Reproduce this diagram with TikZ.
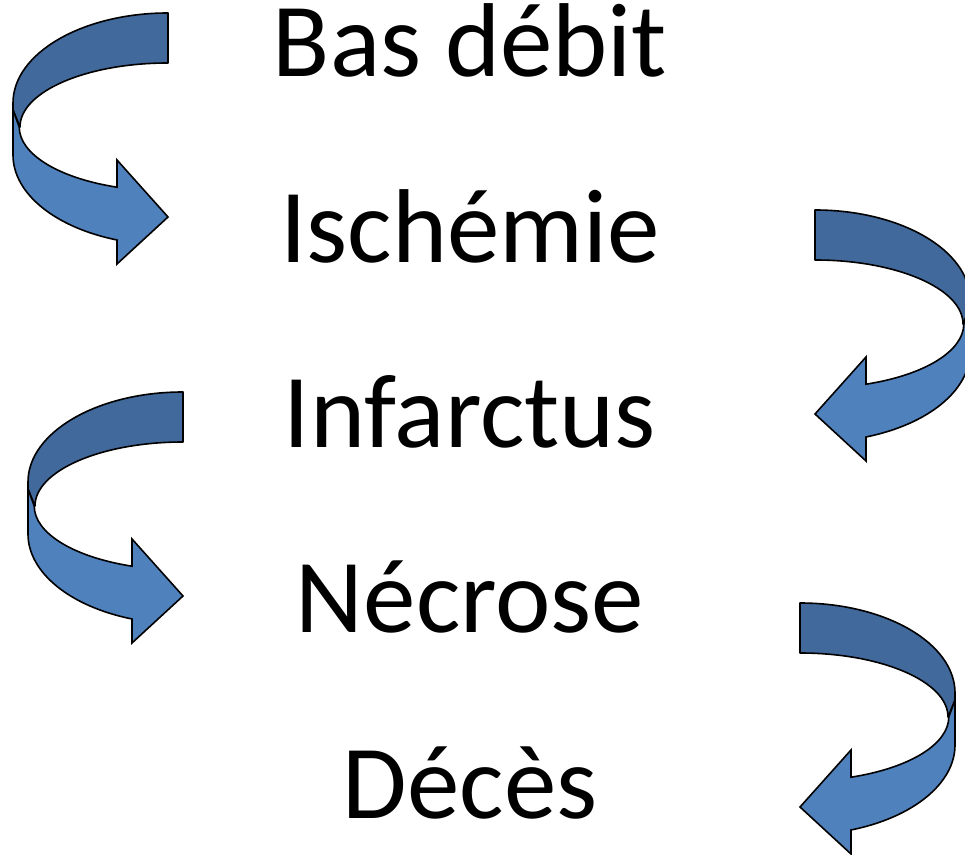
\documentclass[tikz,border=0pt]{standalone}
\usepackage{fontspec}
\setmainfont{Carlito}
\usepackage{xcolor}
\definecolor{bandDark}{RGB}{65,105,155}
\definecolor{bandLight}{RGB}{79,129,189}

\begin{document}
\begin{tikzpicture}[x=1pt, y=1pt, node distance=185.25pt,
        word/.style={font=\fontsize{105}{110}\selectfont, text height=70pt, text depth=0pt, inner sep=0pt},
        backband/.style={draw=black, fill=bandDark, line width=1.6pt, line join=round},
        frontband/.style={draw=black, fill=bandLight, line width=1.6pt},
        bendarrow/.pic={
            \path[backband] (0,0) arc[start angle=90, end angle=180, x radius=155pt, y radius=90pt]
                -- (-155,-97) -- (-148,-114)
                arc[start angle=180, end angle=90, x radius=148pt, y radius=64pt] -- cycle;
            \path[frontband] (-155,-97) -- (-155,-142)
                arc[start angle=180, end angle=250.8, x radius=155pt, y radius=90pt]
                -- (-51,-251) -- (0,-204) -- (-51,-147) -- (-51,-174.2)
                arc[start angle=250.16, end angle=180, x radius=148pt, y radius=64pt] -- cycle;
        }]
        \useasboundingbox (0,0) rectangle (965,854);

        \node[word] (Bas) at (470,812) {Bas débit};
        \node[word, below of=Bas] (Ischemie) {Ischémie};
        \node[word, below of=Ischemie] (Infarctus) {Infarctus};
        \node[word, below of=Infarctus] (Necrose) {Nécrose};
        \node[word, below of=Necrose] (Deces) {Décès};

        \pic (ArrowA) at (168,841) {bendarrow};
        \pic[xscale=-1] (ArrowB) at (815,644) {bendarrow};
        \pic (ArrowC) at (183,462) {bendarrow};
        \pic[xscale=-1] (ArrowD) at (800,251) {bendarrow};
    \end{tikzpicture}
\end{document}
